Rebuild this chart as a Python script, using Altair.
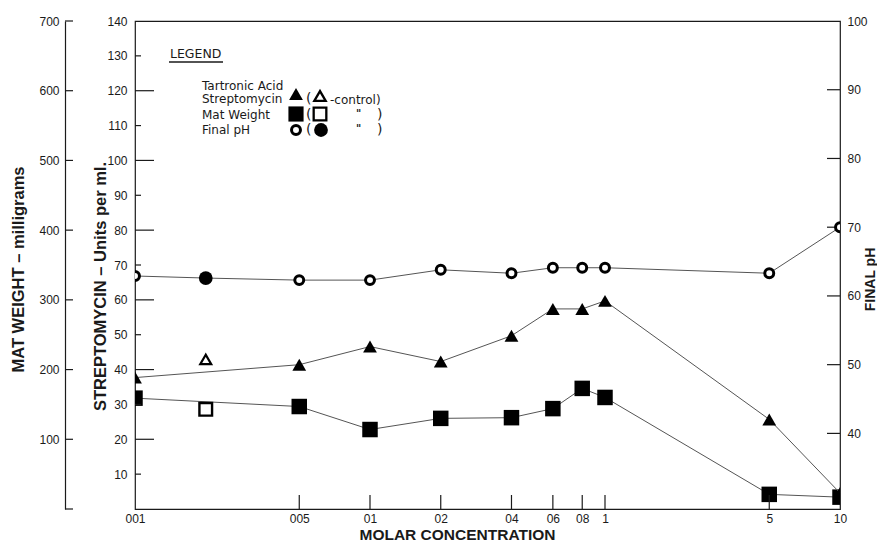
import altair as alt
import pandas as pd

# ---------------- data ----------------
conc = [0.001, 0.005, 0.01, 0.02, 0.04, 0.06, 0.08, 0.1, 0.5, 1.0]
strep = [37.7, 41.4, 46.6, 42.3, 49.7, 57.4, 57.4, 59.7, 25.7, 4.6]          # units per ml
mat_weight = [159, 147, 114, 130, 131, 144, 173, 160, 21, 17]               # milligrams
final_ph = [62.9, 62.3, 62.3, 63.8, 63.3, 64.1, 64.1, 64.1, 63.3, 70.0]     # pH x10

control_conc = [0.002]
control_strep = [42.9]
control_mat = [143]
control_ph = [62.6]

x_ticks = [0.001, 0.005, 0.01, 0.02, 0.04, 0.06, 0.08, 0.1, 0.5, 1.0]
x_labels = ["001", "005", "01", "02", "04", "06", "08", "1", "5", "10"]
strep_ticks = [10, 20, 30, 40, 50, 60, 70, 80, 90, 100, 110, 120, 130, 140]
mat_ticks = [100, 200, 300, 400, 500, 600, 700]
ph_ticks = [40, 50, 60, 70, 80, 90, 100]

FONT = "Liberation Sans"
LFONT = "DejaVu Sans"
INK = "#1a1a1a"
LINE = "#555555"
W, H = 705, 488

# ---------------- shared x ----------------
label_expr = " : ".join(
    f"abs(datum.value - {v}) < {v * 1e-6} ? '{l}'" for v, l in zip(x_ticks, x_labels)
) + " : ''"
x_scale = alt.Scale(type="log", domain=[0.001, 1.0], nice=False)
x_axis = alt.Axis(
    values=x_ticks, labelExpr=label_expr, ticks=False, domain=False, grid=False,
    labelFont=FONT, labelFontSize=12, labelColor=INK, labelPadding=4,
    labelFlush=False, labelOverlap=False,
    title="MOLAR  CONCENTRATION", titleFont=FONT, titleFontSize=15.5,
    titleFontWeight="bold", titleColor=INK, titleX=322, titleY=30,
    titleBaseline="alphabetic",
)


def xenc():
    return alt.X("conc:Q", scale=x_scale, axis=x_axis)


# ---------------- streptomycin (0-140) ----------------
strep_scale = alt.Scale(domain=[0, 140], nice=False, zero=False)
strep_axis = alt.Axis(
    orient="left", values=strep_ticks, ticks=False, domain=False, grid=False,
    labelFont=FONT, labelFontSize=12, labelColor=INK, labelPadding=8,
    title="STREPTOMYCIN – Units per ml.", titleFont=FONT, titleFontSize=16.5,
    titleFontWeight="bold", titleColor=INK, titleAngle=270, titleX=-35, titleY=265,
    titleBaseline="middle",
)


def y_strep():
    return alt.Y("val:Q", scale=strep_scale, axis=strep_axis)


strep_df = pd.DataFrame({"conc": conc, "val": strep})
strep_ctrl_df = pd.DataFrame({"conc": control_conc, "val": control_strep})
strep_long = pd.DataFrame({"val": [v for v in strep_ticks if v % 20 == 0 and v < 140]})
strep_short = pd.DataFrame({"val": [v for v in strep_ticks if v % 20 == 10]})

strep_layer = alt.layer(
    alt.Chart(strep_long).mark_rule(color=INK, strokeWidth=1.2).encode(
        y=y_strep(), x=alt.value(0), x2=alt.value(19)),
    alt.Chart(strep_short).mark_rule(color=INK, strokeWidth=1.2).encode(
        y=y_strep(), x=alt.value(0), x2=alt.value(6)),
    alt.Chart(strep_df).mark_line(color=LINE, strokeWidth=1).encode(x=xenc(), y=y_strep()),
    alt.Chart(strep_df).mark_point(shape="triangle-up", filled=True, color="black",
                                   size=190, opacity=1, clip=True).encode(x=xenc(), y=y_strep()),
    alt.Chart(strep_ctrl_df).mark_point(shape="triangle-up", fill="white", stroke="black",
                                        strokeWidth=2.2, size=120, opacity=1,
                                        fillOpacity=1).encode(x=xenc(), y=y_strep()),
)

# ---------------- mat weight (0-700) ----------------
mat_scale = alt.Scale(domain=[0, 700], nice=False, zero=False)
mat_axis = alt.Axis(
    orient="left", offset=70, values=mat_ticks, ticks=False, domain=True,
    domainColor=INK, domainWidth=1.2, grid=False,
    labelFont=FONT, labelFontSize=12, labelColor=INK, labelPadding=6,
    title="MAT  WEIGHT – milligrams", titleFont=FONT, titleFontSize=16.5,
    titleFontWeight="bold", titleColor=INK, titleAngle=270, titleX=-47, titleY=248,
    titleBaseline="middle",
)


def y_mat():
    return alt.Y("val:Q", scale=mat_scale, axis=mat_axis)


mat_df = pd.DataFrame({"conc": conc, "val": mat_weight})
mat_ctrl_df = pd.DataFrame({"conc": control_conc, "val": control_mat})
mat_tick_df = pd.DataFrame({"val": [0] + mat_ticks})

mat_layer = alt.layer(
    alt.Chart(mat_tick_df).mark_rule(color=INK, strokeWidth=1.2).encode(
        y=y_mat(), x=alt.value(-70), x2=alt.value(-62)),
    alt.Chart(mat_df).mark_line(color=LINE, strokeWidth=1).encode(x=xenc(), y=y_mat()),
    alt.Chart(mat_df).mark_point(shape="square", filled=True, color="black",
                                 size=240, opacity=1, clip=True).encode(x=xenc(), y=y_mat()),
    alt.Chart(mat_ctrl_df).mark_point(shape="square", fill="white", stroke="black",
                                      strokeWidth=2.4, size=160, opacity=1,
                                      fillOpacity=1).encode(x=xenc(), y=y_mat()),
)

# ---------------- final pH (right) ----------------
ph_scale = alt.Scale(domain=[29, 100], nice=False, zero=False)
ph_axis = alt.Axis(
    orient="right", values=ph_ticks, ticks=False, domain=False, grid=False,
    labelFont=FONT, labelFontSize=12, labelColor=INK, labelPadding=7,
    title="FINAL  pH", titleFont=FONT, titleFontSize=14,
    titleFontWeight="bold", titleColor=INK, titleAngle=270, titleX=30, titleY=258,
    titleBaseline="middle",
)


def y_ph():
    return alt.Y("val:Q", scale=ph_scale, axis=ph_axis)


ph_df = pd.DataFrame({"conc": conc, "val": final_ph})
ph_ctrl_df = pd.DataFrame({"conc": control_conc, "val": control_ph})
ph_line_df = pd.concat([ph_df, ph_ctrl_df]).sort_values("conc")
ph_tick_df = pd.DataFrame({"val": [v for v in ph_ticks if v < 100]})

ph_layer = alt.layer(
    alt.Chart(ph_tick_df).mark_rule(color=INK, strokeWidth=1.2).encode(
        y=y_ph(), x=alt.value(W - 13), x2=alt.value(W)),
    alt.Chart(ph_line_df).mark_line(color=LINE, strokeWidth=1).encode(x=xenc(), y=y_ph()),
    alt.Chart(ph_df).mark_point(shape="circle", fill="white", stroke="black",
                                strokeWidth=3, size=80, opacity=1, clip=True,
                                fillOpacity=1).encode(x=xenc(), y=y_ph()),
    alt.Chart(ph_ctrl_df).mark_point(shape="circle", filled=True, color="black",
                                     size=190, opacity=1).encode(x=xenc(), y=y_ph()),
)

# ---------------- x ticks (inward) ----------------
xtick_df = pd.DataFrame({"conc": [v for v in x_ticks if 0.001 < v < 1.0]})
xtick_layer = alt.Chart(xtick_df).mark_rule(color=INK, strokeWidth=1.2).encode(
    x=xenc(), y=alt.value(H), y2=alt.value(H - 14))

# ---------------- hand-drawn style legend ----------------
one = pd.DataFrame({"a": [0]})
legend_texts = [
    ("LEGEND", 35, 33, 12.5, "normal"),
    ("Tartronic   Acid", 67, 65, 12, "normal"),
    ("Streptomycin", 67, 78, 12, "normal"),
    ("Mat   Weight", 67, 94, 12, "normal"),
    ("Final     pH", 67, 109, 12, "normal"),
    ("(", 171, 78, 14, "normal"),
    ("-control)", 195, 79, 12, "normal"),
    ("(", 171, 94, 14, "normal"),
    ('"', 221, 93, 10, "bold"),
    (")", 242, 94, 14, "normal"),
    ("(", 171, 109, 14, "normal"),
    ('"', 221, 108, 10, "bold"),
    (")", 242, 109, 14, "normal"),
]
legend_layers = []
for txt, px, py, fs, fw in legend_texts:
    legend_layers.append(
        alt.Chart(one).mark_text(text=txt, align="left", baseline="middle", font=LFONT,
                                 fontSize=fs, fontWeight=fw, color=INK).encode(
            x=alt.value(px), y=alt.value(py)))
legend_layers.append(
    alt.Chart(one).mark_rule(color=INK, strokeWidth=1.3).encode(
        x=alt.value(34), x2=alt.value(88), y=alt.value(41)))
legend_marks = [
    ("triangle-up", True, 161, 73, 190),
    ("triangle-up", False, 185, 75, 130),
    ("square", True, 161, 93, 230),
    ("square", False, 185, 93, 160),
    ("circle", False, 161, 109, 80),
    ("circle", True, 186, 109, 190),
]
for shp, filled, px, py, sz in legend_marks:
    if filled:
        mk = alt.Chart(one).mark_point(shape=shp, filled=True, color="black", size=sz, opacity=1)
    else:
        mk = alt.Chart(one).mark_point(shape=shp, fill="white", stroke="black",
                                       strokeWidth=3 if shp == "circle" else 2.3,
                                       size=sz, opacity=1, fillOpacity=1)
    legend_layers.append(mk.encode(x=alt.value(px), y=alt.value(py)))

chart = alt.layer(
    mat_layer, strep_layer, ph_layer, xtick_layer, *legend_layers
).resolve_scale(y="independent").properties(
    width=W, height=H,
    autosize=alt.AutoSizeParams(type="none"),
    padding={"left": 127, "top": 13, "right": 37, "bottom": 34},
    background="white",
).configure_view(stroke=INK, strokeWidth=1.2)

chart.save("out.html", embed_options={"renderer": "svg", "actions": False})
